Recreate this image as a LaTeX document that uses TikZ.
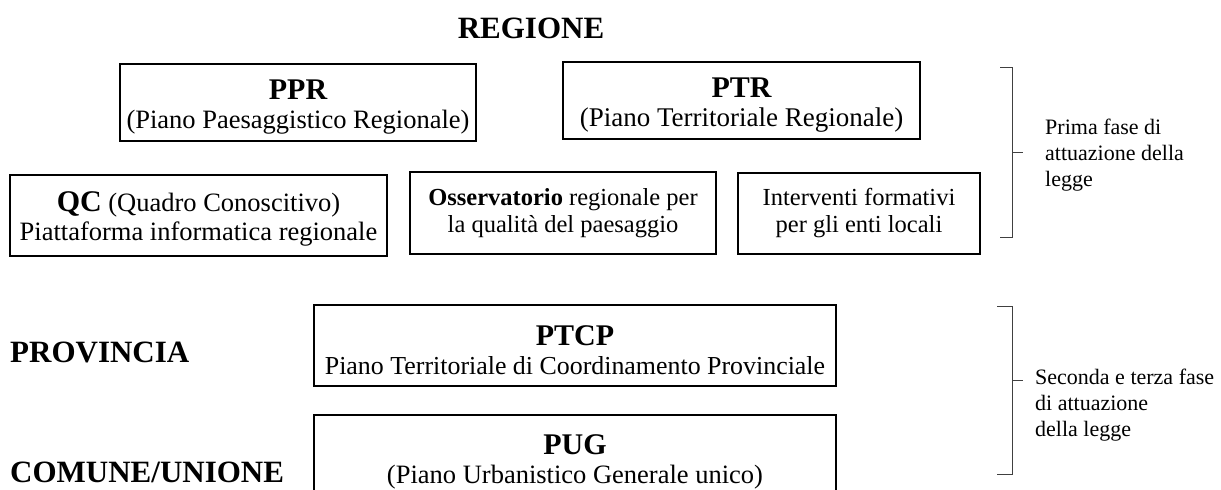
\documentclass[tikz,border=0pt]{standalone}
\usepackage{fontspec}
\setmainfont{Liberation Serif}
\usepackage{tikz}

\newcommand{\bodysize}{\fontsize{26.5}{29}\selectfont}
\newcommand{\smallbody}{\fontsize{24.5}{27}\selectfont}
\newcommand{\titlesize}{\fontsize{30}{31}\selectfont\bfseries}
\newcommand{\notesize}{\fontsize{22}{26}\selectfont}
\newcommand{\titolo}[1]{{\titlesize\rule{0pt}{29pt}#1}}

\tikzset{
  ente/.style={font=\fontsize{31}{33}\selectfont\bfseries, inner sep=0pt},
  piano/.style={draw, line width=1.5pt, align=center, inner sep=1pt, font=\bodysize},
  fase/.style={align=left, anchor=west, inner sep=0pt, font=\notesize},
  graffa/.style={line width=0.9pt, black!75}
}

\begin{document}
\begin{tikzpicture}[x=1pt,y=-1pt]
    \useasboundingbox (0,0) rectangle (1221,490);
    \clip (0,0) rectangle (1221,490);
    % livelli
    \node[ente] (regione) at (531,28) {REGIONE};
    \node[ente,anchor=west] (provincia) at (10,352) {PROVINCIA};
    \node[ente,anchor=west] (comune) at (10,472) {COMUNE/UNIONE};
    % riquadri regionali
    \node[piano,minimum width=356pt,minimum height=77pt] (ppr) at (298,102.5)
      {\titolo{PPR}\\(Piano Paesaggistico Regionale)};
    \node[piano,minimum width=357pt,minimum height=77pt,font=\fontsize{27}{29}\selectfont] (ptr) at (741.5,100.5)
      {\titolo{PTR}\\(Piano Territoriale Regionale)};
    \node[piano,minimum width=377pt,minimum height=81pt] (qc) at (198.5,215.5)
      {{\titlesize\rule{0pt}{26pt}QC} (Quadro Conoscitivo)\\Piattaforma informatica regionale};
    \node[piano,minimum width=306pt,minimum height=82pt,font=\smallbody] (oss) at (563,213)
      {\textbf{Osservatorio} regionale per\\la qualit\`a del paesaggio};
    \node[piano,minimum width=242pt,minimum height=81pt,font=\smallbody] (int) at (859,213.5)
      {Interventi formativi\\per gli enti locali};
    % riquadri provincia e comune
    \node[piano,minimum width=522pt,minimum height=81pt,font=\fontsize{25.9}{29}\selectfont] (ptcp) at (575,345.5)
      {\titolo{PTCP}\\Piano Territoriale di Coordinamento Provinciale};
    \node[piano,minimum width=522pt,minimum height=82pt] (pug) at (575,456)
      {{\titlesize\rule{0pt}{31pt}PUG}\\(Piano Urbanistico Generale unico)};
    % graffe
    \coordinate (g1a) at (1000,67);
    \coordinate (g1b) at (1000,237);
    \draw[graffa] (g1a) -- (1012,67) -- (1012,237) -- (g1b);
    \draw[graffa] (1012,152) -- (1023,152);
    \node[fase] (prima) at (1045,155) {Prima fase di\\attuazione della\\legge};
    \coordinate (g2a) at (997,306);
    \coordinate (g2b) at (997,474);
    \draw[graffa] (g2a) -- (1012,306) -- (1012,474) -- (g2b);
    \draw[graffa] (1012,380) -- (1023,380);
    \node[fase] (seconda) at (1035,405) {Seconda e terza fase\\di attuazione\\della legge};
  \end{tikzpicture}
\end{document}
